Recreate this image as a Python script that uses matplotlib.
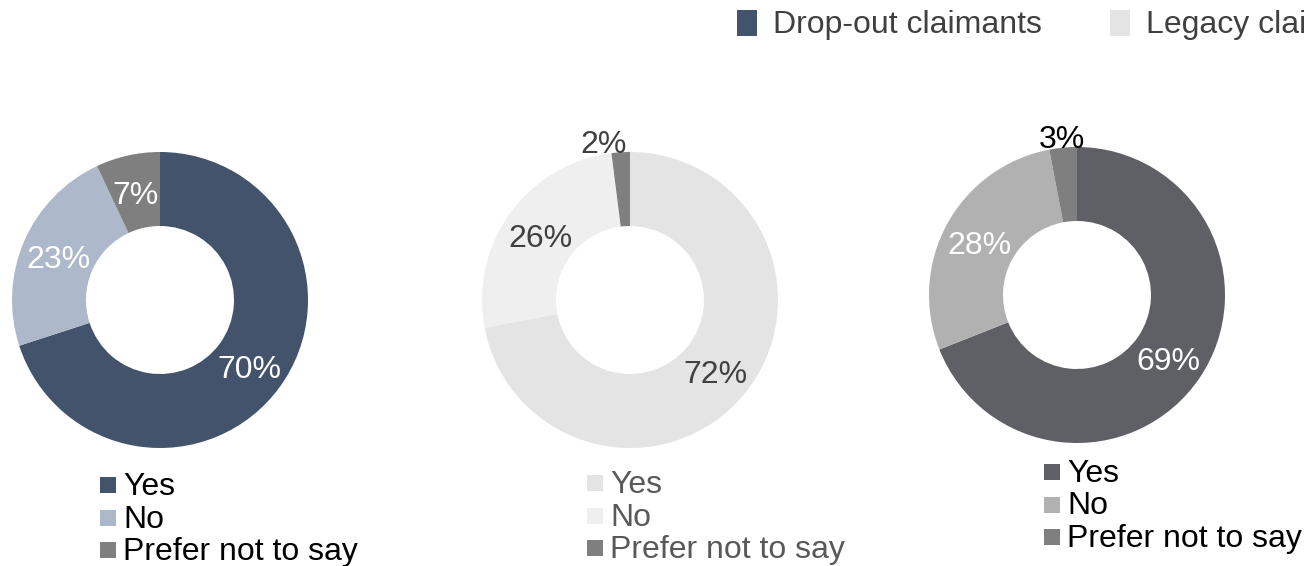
import matplotlib
matplotlib.use("Agg")
import matplotlib.pyplot as plt
from matplotlib.patches import Rectangle
import numpy as np

plt.rcParams['font.family'] = ['Liberation Sans', 'DejaVu Sans']

# Answer categories and shares (%) for each group
categories = ["Yes", "No", "Prefer not to say"]
dropout_values = [70, 23, 7]
legacy_values = [72, 26, 2]
third_values = [69, 28, 3]

groups = ["Drop-out claimants", "Legacy claimants"]
group_colors = ["#43536B", "#E4E4E4"]

W, H = 1304, 566
DPI = 100
fig = plt.figure(figsize=(W / DPI, H / DPI), dpi=DPI)

FS = 23

charts = [
    dict(values=dropout_values, center=(160, 300),
         colors=["#43536B", "#ADB9CA", "#7F7F7F"],
         label_colors=["white", "white", "white"], outside=[False, False, False],
         out_dx=0.0, legend_xy=(100, 485), legend_text="black"),
    dict(values=legacy_values, center=(630, 300),
         colors=["#E4E4E4", "#EFEFEF", "#7F7F7F"],
         label_colors=["#404040", "#404040", "#404040"], outside=[False, False, True],
         out_dx=-0.11, legend_xy=(587, 483), legend_text="#595959"),
    dict(values=third_values, center=(1077, 295),
         colors=["#5F6065", "#B1B1B1", "#7F7F7F"],
         label_colors=["white", "white", "black"], outside=[False, False, True],
         out_dx=0.0, legend_xy=(1044, 472), legend_text="black"),
]

R = 148  # outer radius in pixels

for ch in charts:
    cx, cy = ch["center"]
    ax = fig.add_axes([(cx - R) / W, (H - cy - R) / H, 2 * R / W, 2 * R / H])
    vals = ch["values"]
    ax.pie(vals, colors=ch["colors"], startangle=90, counterclock=False,
           radius=1.0, wedgeprops=dict(width=0.5, linewidth=0))
    ax.set_xlim(-1, 1)
    ax.set_ylim(-1, 1)
    ax.set_aspect("equal")
    ax.axis("off")
    total = float(sum(vals))
    cum = 0.0
    for v, lc, out in zip(vals, ch["label_colors"], ch["outside"]):
        mid = 90 - 360 * (cum + v / 2) / total
        cum += v
        r = 1.06 if out else 0.75
        x, y = r * np.cos(np.radians(mid)), r * np.sin(np.radians(mid))
        if out:
            x += ch["out_dx"]
            y -= 0.01
        else:
            y -= 0.03
        ax.text(x, y, f"{v}%", ha="center", va="center", fontsize=FS, color=lc,
                clip_on=False)

    # per-chart legend
    lx, ly = ch["legend_xy"]
    for i, (cat, col) in enumerate(zip(categories, ch["colors"])):
        yy = ly + i * 32.5
        fig.patches.append(Rectangle((lx / W, (H - yy - 8) / H), 16 / W, 16 / H,
                                     transform=fig.transFigure, facecolor=col,
                                     edgecolor="none"))
        fig.text((lx + 23) / W, (H - yy - 2) / H, cat, ha="left", va="center",
                 fontsize=FS, color=ch["legend_text"])

# Group legend along the top
top_x = [737, 1110]
for gx, g, gc in zip(top_x, groups, group_colors):
    fig.patches.append(Rectangle((gx / W, (H - 36) / H), 20 / W, 26 / H,
                                 transform=fig.transFigure, facecolor=gc,
                                 edgecolor="none"))
    fig.text((gx + 36) / W, (H - 25) / H, g, ha="left", va="center",
             fontsize=FS, color="#404040")

fig.savefig("out.png", dpi=DPI)
